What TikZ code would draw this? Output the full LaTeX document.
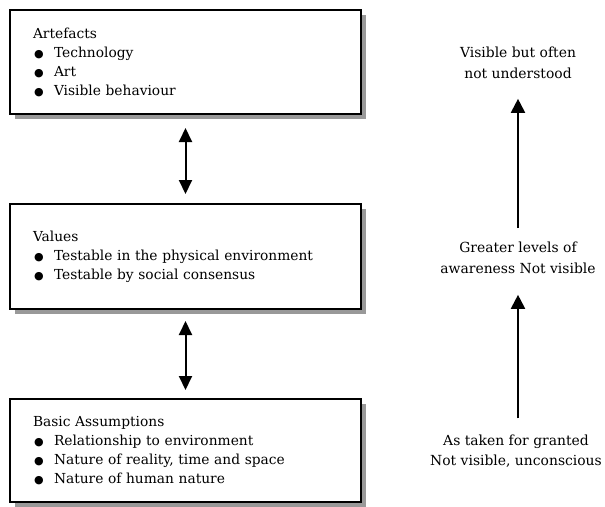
\documentclass[tikz,border=0pt]{standalone}
\usepackage{fontspec}
\setmainfont{DejaVu Serif}
\newfontfamily\bulletfont{DejaVu Sans}
\usetikzlibrary{arrows.meta,shadows}
\newcommand{\bitem}[1]{\\\makebox[21pt][l]{\hspace*{1pt}{\bulletfont\fontsize{11}{19}\selectfont ●}}#1}
\tikzset{
  layerbox/.style={draw=black, line width=2pt, fill=white, minimum width=351pt,
    text width=305pt, align=left, inner xsep=23pt, inner ysep=0pt,
    font=\fontsize{13.8}{19}\selectfont,
    drop shadow={shadow xshift=5pt, shadow yshift=-5pt, fill=black!40, opacity=1}},
  sidetext/.style={align=center, inner sep=0pt, font=\fontsize{13.9}{20.5}\selectfont},
  dbl/.style={{Triangle[width=13pt,length=14pt]}-{Triangle[width=13pt,length=14pt]}, line width=2pt},
  upar/.style={-{Triangle[width=14pt,length=14pt]}, line width=2pt}
}
\begin{document}
\begin{tikzpicture}[x=1pt,y=-1pt]
\useasboundingbox (0,0) rectangle (605,506);
\node[layerbox, minimum height=104pt] (b1) at (185.5,62) {Artefacts\bitem{Technology}\bitem{Art}\bitem{Visible behaviour}};
\node[layerbox, minimum height=105pt] (b2) at (185.5,256.5) {Values\bitem{Testable in the physical environment}\bitem{Testable by social consensus}};
\node[layerbox, minimum height=103pt] (b3) at (185.5,450.5) {Basic Assumptions\bitem{Relationship to environment}\bitem{Nature of reality, time and space}\bitem{Nature of human nature}};
\draw[dbl, shorten <=13pt, shorten >=9pt] (b1.south) -- (b2.north);
\draw[dbl, shorten <=11pt, shorten >=8pt] (b2.south) -- (b3.north);
\node[sidetext] (t1) at (518,63) {Visible but often\\not understood};
\node[sidetext] (t2) at (518,258) {Greater levels of\\awareness Not visible};
\node[sidetext] (t3) at (516,451) {As taken for granted\\Not visible, unconscious};
\draw[upar, shorten <=14pt, shorten >=20pt] (t2.north) -- (t1.south);
\draw[upar, shorten <=16pt, shorten >=21pt] (t3.north -| t2.north) -- (t2.south);
\end{tikzpicture}
\end{document}
